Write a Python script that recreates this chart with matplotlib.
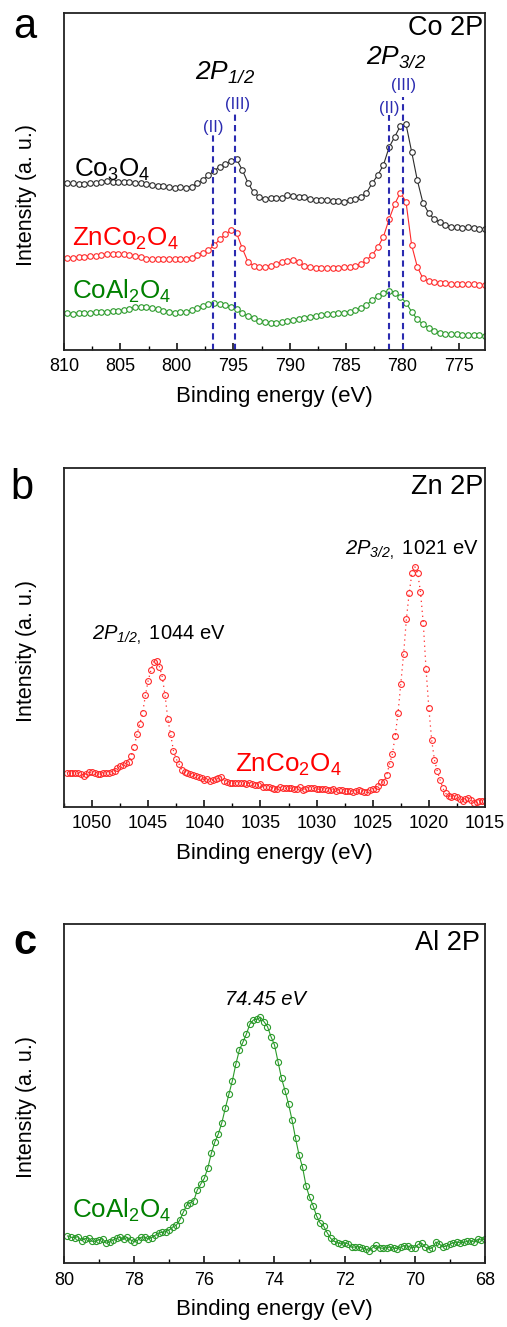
import numpy as np
import matplotlib
matplotlib.use("Agg")
import matplotlib.pyplot as plt
from matplotlib.ticker import MultipleLocator

plt.rcParams['font.family'] = ['Liberation Sans', 'DejaVu Sans']
plt.rcParams['mathtext.fontset'] = 'custom'
plt.rcParams['mathtext.rm'] = 'Liberation Sans'
plt.rcParams['mathtext.it'] = 'Liberation Sans:italic'
plt.rcParams['mathtext.sf'] = 'Liberation Sans:italic'
plt.rcParams['mathtext.bf'] = 'Liberation Sans:bold'

# ---------------- Co 2p region (0.5 eV steps) ----------------
co_energy = np.arange(809.7, 772.6, -0.5)
co3o4 = [500, 500, 498, 498, 500, 501, 504, 508, 505, 504,
         505, 504, 502, 500, 497, 494, 493, 493, 488, 487,
         488, 487, 490, 500, 510, 524, 538, 550, 558, 567,
         572, 540, 502, 473, 460, 452, 455, 457, 457, 465,
         462, 460, 458, 453, 450, 450, 450, 448, 447, 445,
         450, 454, 459, 472, 500, 525, 555, 608, 640, 672,
         678, 595, 510, 442, 412, 392, 385, 376, 370, 368,
         367, 368, 366, 364, 362]
znco2o4_co = [277, 277, 278, 280, 282, 283, 285, 288, 288, 288,
              287, 285, 283, 280, 273, 272, 272, 272, 272, 272,
              272, 274, 277, 285, 292, 300, 314, 332, 347, 360,
              350, 305, 265, 253, 250, 250, 253, 257, 263, 268,
              270, 265, 253, 250, 247, 245, 245, 245, 245, 248,
              250, 253, 257, 270, 285, 308, 340, 392, 438, 472,
              445, 315, 250, 215, 207, 205, 202, 200, 198, 198,
              198, 197, 197, 195, 195]
coal2o4_co = [110, 108, 110, 112, 112, 113, 115, 115, 117, 118,
              120, 123, 128, 130, 128, 125, 122, 118, 115, 112,
              113, 115, 120, 125, 132, 137, 140, 138, 135, 130,
              122, 110, 102, 95, 88, 85, 82, 82, 83, 88,
              90, 93, 97, 100, 103, 105, 108, 108, 110, 112,
              115, 120, 125, 135, 150, 162, 172, 178, 172, 160,
              142, 115, 92, 78, 65, 57, 50, 48, 48, 47,
              46, 45, 45, 44, 43]
co_ref_lines = [796.8, 794.85, 781.2, 780.0]
co_ref_tops = [0.637, 0.70, 0.697, 0.751]
co_ref_labels = ['(II)', '(III)', '(II)', '(III)']

# ---------------- Zn 2p region (0.25 eV steps) ----------------
zn_energy = np.arange(1052.25, 1014.9, -0.25)
znco2o4_zn = [102, 102, 102, 102, 100, 97, 92, 99, 103, 104,
              102, 98, 98, 101, 101, 101, 103, 107, 115, 121,
              126, 131, 135, 152, 180, 217, 248, 280, 334, 378,
              410, 435, 438, 420, 390, 335, 262, 217, 168, 143,
              128, 110, 105, 100, 97, 95, 92, 88, 85, 81,
              82, 76, 79, 82, 85, 90, 78, 75, 71, 72,
              70, 71, 72, 70, 68, 71, 67, 64, 65, 69,
              60, 58, 59, 57, 54, 53, 58, 55, 55, 56,
              56, 54, 52, 58, 51, 54, 56, 56, 55, 52,
              53, 54, 52, 49, 49, 52, 48, 51, 51, 47,
              46, 48, 45, 47, 49, 48, 44, 43, 50, 53,
              54, 63, 73, 75, 96, 128, 158, 212, 280, 368,
              458, 563, 642, 702, 720, 702, 645, 552, 412, 295,
              200, 140, 107, 80, 55, 40, 31, 30, 31, 28,
              22, 18, 23, 27, 20, 12, 15, 18, 18, 18]

# ---------------- Al 2p region (0.1 eV steps) ----------------
al_energy = np.arange(79.9, 67.95, -0.1)
coal2o4_al = [82, 78, 77, 80, 68, 74, 76, 66, 66, 71,
              74, 60, 64, 70, 75, 78, 72, 78, 70, 65,
              69, 78, 79, 73, 77, 84, 91, 93, 95, 100,
              109, 114, 130, 153, 175, 182, 188, 220, 238, 255,
              286, 330, 364, 388, 422, 466, 507, 548, 598, 640,
              663, 688, 718, 730, 732, 738, 725, 710, 680, 655,
              605, 555, 518, 478, 430, 375, 325, 288, 232, 198,
              173, 142, 121, 112, 92, 75, 66, 62, 58, 62,
              58, 48, 49, 50, 46, 43, 38, 47, 54, 46,
              45, 47, 49, 46, 44, 49, 53, 52, 47, 47,
              57, 60, 48, 44, 46, 64, 58, 49, 52, 57,
              62, 64, 61, 63, 66, 68, 63, 72, 70, 72]

BLACK = '#2b2b2b'
RED = '#ff2a2a'
GREEN = '#2a9a2a'
BLUE = '#2b2bb0'
LABEL_SIZE = 18.7

fig = plt.figure(figsize=(5.07, 13.27), dpi=100)
ax_a = fig.add_axes([0.1262, 0.7362, 0.8304, 0.2542])
ax_b = fig.add_axes([0.1262, 0.3921, 0.8304, 0.2550])
ax_c = fig.add_axes([0.1262, 0.0480, 0.8304, 0.2555])


def style_axes(ax, major, minor):
    for sp in ax.spines.values():
        sp.set_linewidth(1.3)
        sp.set_color('#222222')
    ax.xaxis.set_major_locator(MultipleLocator(major))
    ax.xaxis.set_minor_locator(MultipleLocator(minor))
    ax.tick_params(axis='x', which='major', direction='in', length=5,
                   width=1.1, labelsize=13, pad=6, top=False)
    ax.tick_params(axis='x', which='minor', direction='in', length=3,
                   width=1.0, top=False)
    ax.set_yticks([])
    ax.set_xlabel('Binding energy (eV)', fontsize=16, va='center')
    ax.xaxis.set_label_coords(0.5, -0.137)
    ax.set_ylabel('Intensity (a. u.)', fontsize=15.5, va='center')
    ax.yaxis.set_label_coords(-0.088, 0.46)


# ---- panel a ----
mk = dict(marker='o', markersize=4, markeredgewidth=0.8, markerfacecolor='white')
ax_a.plot(co_energy, co3o4, color=BLACK, lw=0.8, **mk)
ax_a.plot(co_energy, znco2o4_co, color=RED, lw=0.8, **mk)
ax_a.plot(co_energy, coal2o4_co, color=GREEN, lw=0.8, **mk)
for e, top in zip(co_ref_lines, co_ref_tops):
    ax_a.axvline(e, ymin=0, ymax=top, color=BLUE, lw=1.5, ls=(0, (3, 2)))
ax_a.set_xlim(810, 772.7)
ax_a.set_ylim(0, 1012)
style_axes(ax_a, 5, 2.5)
tr = ax_a.get_xaxis_transform()
for e, yb, lab in zip([796.8, 794.6, 781.2, 779.9], [0.645, 0.714, 0.702, 0.772],
                      co_ref_labels):
    ax_a.text(e, yb, lab, transform=tr, color=BLUE, fontsize=12,
              ha='center', va='baseline')
ax_a.text(795.7, 0.80, r'$\mathsf{2P}_{\mathsf{1/2}}$', transform=tr,
          fontsize=19, ha='center', va='baseline')
ax_a.text(780.6, 0.846, r'$\mathsf{2P}_{\mathsf{3/2}}$', transform=tr,
          fontsize=19, ha='center', va='baseline')
ax_a.text(809.1, 0.514, r'Co$_3$O$_4$', transform=tr, fontsize=LABEL_SIZE,
          color='black', ha='left', va='baseline')
ax_a.text(809.3, 0.309, r'ZnCo$_2$O$_4$', transform=tr, fontsize=LABEL_SIZE,
          color='#ff0000', ha='left', va='baseline')
ax_a.text(809.3, 0.151, r'CoAl$_2$O$_4$', transform=tr, fontsize=LABEL_SIZE,
          color='#008000', ha='left', va='baseline')
ax_a.text(0.995, 0.955, 'Co 2P', transform=ax_a.transAxes, fontsize=19.5,
          ha='right', va='center')
fig.text(25 / 507, 1 - 27 / 1327, 'a', fontsize=30, ha='center', va='center')

# ---- panel b ----
mk2 = dict(marker='o', markersize=4.2, markeredgewidth=0.8, markerfacecolor='none')
ax_b.plot(zn_energy, znco2o4_zn, color=RED, lw=0.9, ls=(0, (1, 3)), **mk2)
ax_b.set_xlim(1052.5, 1015)
ax_b.set_ylim(0, 1015)
style_axes(ax_b, 5, 2.5)
trb = ax_b.get_xaxis_transform()
ax_b.text(1050.0, 0.493, r'$\mathsf{2P}_{\mathsf{1/2},}$ 1044 eV', transform=trb,
          fontsize=14.5, ha='left', va='baseline')
ax_b.text(1027.45, 0.744, r'$\mathsf{2P}_{\mathsf{3/2},}$ 1021 eV', transform=trb,
          fontsize=14.5, ha='left', va='baseline')
ax_b.text(1037.25, 0.103, r'ZnCo$_2$O$_4$', transform=trb, fontsize=LABEL_SIZE,
          color='#ff0000', ha='left', va='baseline')
ax_b.text(0.995, 0.946, 'Zn 2P', transform=ax_b.transAxes, fontsize=19.5,
          ha='right', va='center')
fig.text(22 / 507, 1 - 488 / 1327, 'b', fontsize=30, ha='center', va='center')

# ---- panel c ----
mk3 = dict(marker='o', markersize=4.4, markeredgewidth=0.8, markerfacecolor='none')
ax_c.plot(al_energy, coal2o4_al, color=GREEN, lw=0.8, **mk3)
ax_c.set_xlim(80, 68)
ax_c.set_ylim(0, 1017)
style_axes(ax_c, 2, 1)
trc = ax_c.get_xaxis_transform()
ax_c.text(74.27, 0.762, '74.45 eV', transform=trc, fontsize=14.5,
          fontstyle='italic', ha='center', va='baseline')
ax_c.text(79.78, 0.133, r'CoAl$_2$O$_4$', transform=trc, fontsize=LABEL_SIZE,
          color='#008000', ha='left', va='baseline')
ax_c.text(0.988, 0.944, 'Al 2P', transform=ax_c.transAxes, fontsize=19.5,
          ha='right', va='center')
fig.text(25 / 507, 1 - 943 / 1327, 'c', fontsize=30, fontweight='bold',
         ha='center', va='center')

fig.savefig('out.png', dpi=100, facecolor='white')
